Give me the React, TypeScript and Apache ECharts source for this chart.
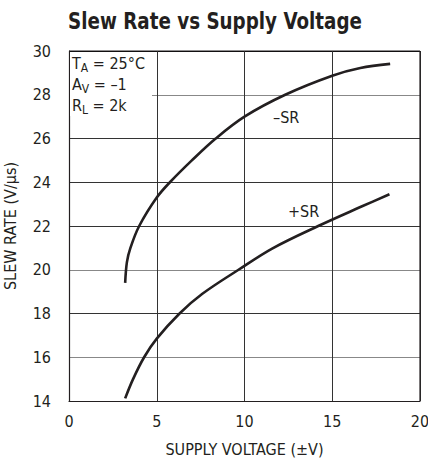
import React, { useEffect, useRef } from "react";
import * as echarts from "echarts";

const negSR: [number, number][] = [
  [3.2, 19.4], [3.3, 20.35], [3.5, 21.0], [4.0, 22.0], [5.0, 23.3], [5.75, 24.0],
  [7.0, 25.0], [8.36, 26.0], [10, 27.0], [12.32, 28.0], [15, 28.87], [16.6, 29.22], [18.3, 29.41],
];
const posSR: [number, number][] = [
  [3.2, 14.12], [3.65, 15.0], [4.28, 16.0], [5.0, 16.85], [6.3, 18.0], [7.6, 18.9],
  [9.66, 20.0], [11.6, 20.98], [14.2, 22.0], [16.7, 22.9], [18.26, 23.45],
];
const xTicks = [0, 5, 10, 15, 20];
const yTicks = [14, 16, 18, 20, 22, 24, 26, 28, 30];
const TITLE = "Slew Rate vs Supply Voltage";

const FONT = "'DejaVu Sans Condensed', 'Liberation Sans', Arial, sans-serif";

export default function App() {
  const ref = useRef<HTMLDivElement>(null);
  useEffect(() => {
    if (!ref.current) return;
    const chart = echarts.init(ref.current, null, { renderer: "svg" });
    const gridColors = ["#000", "#888", "#333", "#888", "#333", "#333", "#333", "#888", "#000"];
    chart.setOption({
      animation: false,
      backgroundColor: "#fff",
      grid: { left: 69, right: 8, top: 51, bottom: 57, outerBoundsMode: "none", containLabel: false },
      xAxis: {
        type: "value",
        min: xTicks[0],
        max: xTicks[xTicks.length - 1],
        interval: 5,
        name: "SUPPLY VOLTAGE (±V)",
        nameLocation: "middle",
        nameGap: 40,
        nameTextStyle: { fontFamily: FONT, fontSize: 16, color: "#231f20" },
        axisLine: { lineStyle: { color: "#231f20", width: 1.2 } },
        axisTick: { show: false },
        axisLabel: { fontFamily: FONT, fontSize: 16, color: "#231f20", margin: 12 },
        splitLine: { show: true, lineStyle: { color: "#333", width: 1 } },
      },
      yAxis: {
        type: "value",
        min: yTicks[0],
        max: yTicks[yTicks.length - 1],
        interval: 2,
        name: "SLEW RATE (V/µs)",
        nameLocation: "middle",
        nameGap: 51,
        nameTextStyle: { fontFamily: FONT, fontSize: 16, color: "#231f20" },
        axisLine: { show: true, lineStyle: { color: "#231f20", width: 1.2 } },
        axisTick: { show: false },
        axisLabel: { fontFamily: FONT, fontSize: 16, color: "#231f20", margin: 18 },
        splitLine: { show: true, lineStyle: { color: gridColors, width: 1 } },
      },
      graphic: [
        {
          type: "text", x: 215, y: 21, scaleX: 0.885, z: 3,
          style: {
            text: TITLE, fontFamily: FONT, fontWeight: "bold", fontSize: 23, fill: "#231f20",
            align: "center", verticalAlign: "middle",
          },
        },
        { type: "rect", left: 70, top: 52, shape: { width: 82, height: 64 }, style: { fill: "#fff" }, z: 1 },
        { type: "line", shape: { x1: 420, y1: 51, x2: 420, y2: 401 }, style: { stroke: "#231f20", lineWidth: 1.2 }, z: 2 },
        { type: "line", shape: { x1: 69, y1: 51, x2: 420, y2: 51 }, style: { stroke: "#231f20", lineWidth: 1.2 }, z: 2 },
        {
          type: "text", left: 72, top: 55, z: 3,
          style: {
            text: "{m|T}{s|A}{m| = 25°C}\n{m|A}{s|V}{m| = –1}\n{m|R}{s|L}{m| = 2k}",
            fontFamily: FONT,
            rich: {
              m: { fontSize: 16, fontFamily: FONT, fill: "#231f20", lineHeight: 21, verticalAlign: "bottom" },
              s: { fontSize: 12, fontFamily: FONT, fill: "#231f20", lineHeight: 21, verticalAlign: "bottom", padding: [0, 0, -3, 0] },
            },
          },
        },
        { type: "text", left: 273, top: 109, z: 3, style: { text: "–SR", fontFamily: FONT, fontSize: 16, fill: "#231f20" } },
        { type: "text", left: 288, top: 203, z: 3, style: { text: "+SR", fontFamily: FONT, fontSize: 16, fill: "#231f20" } },
      ],
      series: [
        {
          type: "line", data: negSR, smooth: 0.35, showSymbol: false, z: 5,
          lineStyle: { color: "#231f20", width: 2.6 },
        },
        {
          type: "line", data: posSR, smooth: 0.35, showSymbol: false, z: 5,
          lineStyle: { color: "#231f20", width: 2.6 },
        },
      ],
    });
    return () => chart.dispose();
  }, []);
  return <div ref={ref} style={{ position: "absolute", left: 0, top: 0, width: 428, height: 458 }} />;
}
